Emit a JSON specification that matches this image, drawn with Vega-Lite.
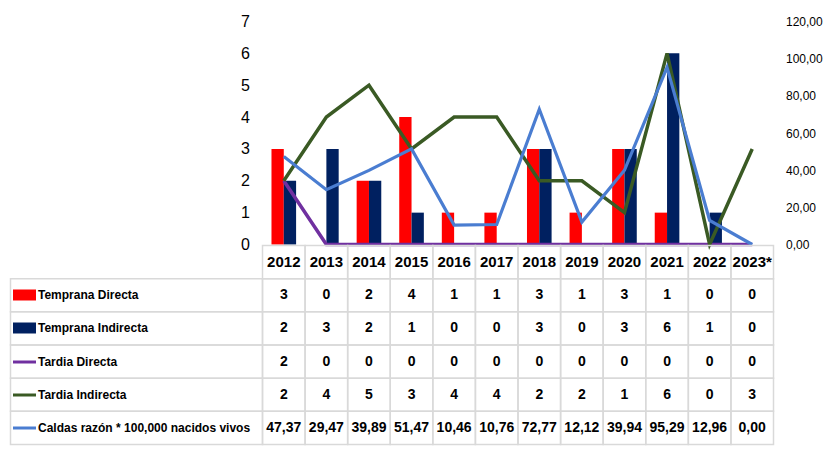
{
  "$schema": "https://vega.github.io/schema/vega-lite/v6.json",
  "padding": {"left": 6.5, "top": 13.5, "right": 0, "bottom": 0},
  "background": "white",
  "datasets": {
    "d": [
      {"year": "2012", "serie": "Temprana Directa", "v": 3},
      {"year": "2013", "serie": "Temprana Directa", "v": 0},
      {"year": "2014", "serie": "Temprana Directa", "v": 2},
      {"year": "2015", "serie": "Temprana Directa", "v": 4},
      {"year": "2016", "serie": "Temprana Directa", "v": 1},
      {"year": "2017", "serie": "Temprana Directa", "v": 1},
      {"year": "2018", "serie": "Temprana Directa", "v": 3},
      {"year": "2019", "serie": "Temprana Directa", "v": 1},
      {"year": "2020", "serie": "Temprana Directa", "v": 3},
      {"year": "2021", "serie": "Temprana Directa", "v": 1},
      {"year": "2022", "serie": "Temprana Directa", "v": 0},
      {"year": "2023*", "serie": "Temprana Directa", "v": 0},
      {"year": "2012", "serie": "Temprana Indirecta", "v": 2},
      {"year": "2013", "serie": "Temprana Indirecta", "v": 3},
      {"year": "2014", "serie": "Temprana Indirecta", "v": 2},
      {"year": "2015", "serie": "Temprana Indirecta", "v": 1},
      {"year": "2016", "serie": "Temprana Indirecta", "v": 0},
      {"year": "2017", "serie": "Temprana Indirecta", "v": 0},
      {"year": "2018", "serie": "Temprana Indirecta", "v": 3},
      {"year": "2019", "serie": "Temprana Indirecta", "v": 0},
      {"year": "2020", "serie": "Temprana Indirecta", "v": 3},
      {"year": "2021", "serie": "Temprana Indirecta", "v": 6},
      {"year": "2022", "serie": "Temprana Indirecta", "v": 1},
      {"year": "2023*", "serie": "Temprana Indirecta", "v": 0},
      {"year": "2012", "serie": "Tardia Directa", "v": 2},
      {"year": "2013", "serie": "Tardia Directa", "v": 0},
      {"year": "2014", "serie": "Tardia Directa", "v": 0},
      {"year": "2015", "serie": "Tardia Directa", "v": 0},
      {"year": "2016", "serie": "Tardia Directa", "v": 0},
      {"year": "2017", "serie": "Tardia Directa", "v": 0},
      {"year": "2018", "serie": "Tardia Directa", "v": 0},
      {"year": "2019", "serie": "Tardia Directa", "v": 0},
      {"year": "2020", "serie": "Tardia Directa", "v": 0},
      {"year": "2021", "serie": "Tardia Directa", "v": 0},
      {"year": "2022", "serie": "Tardia Directa", "v": 0},
      {"year": "2023*", "serie": "Tardia Directa", "v": 0},
      {"year": "2012", "serie": "Tardia Indirecta", "v": 2},
      {"year": "2013", "serie": "Tardia Indirecta", "v": 4},
      {"year": "2014", "serie": "Tardia Indirecta", "v": 5},
      {"year": "2015", "serie": "Tardia Indirecta", "v": 3},
      {"year": "2016", "serie": "Tardia Indirecta", "v": 4},
      {"year": "2017", "serie": "Tardia Indirecta", "v": 4},
      {"year": "2018", "serie": "Tardia Indirecta", "v": 2},
      {"year": "2019", "serie": "Tardia Indirecta", "v": 2},
      {"year": "2020", "serie": "Tardia Indirecta", "v": 1},
      {"year": "2021", "serie": "Tardia Indirecta", "v": 6},
      {"year": "2022", "serie": "Tardia Indirecta", "v": 0},
      {"year": "2023*", "serie": "Tardia Indirecta", "v": 3},
      {"year": "2012", "serie": "Caldas  razón * 100,000 nacidos vivos", "v": 47.37},
      {"year": "2013", "serie": "Caldas  razón * 100,000 nacidos vivos", "v": 29.47},
      {"year": "2014", "serie": "Caldas  razón * 100,000 nacidos vivos", "v": 39.89},
      {"year": "2015", "serie": "Caldas  razón * 100,000 nacidos vivos", "v": 51.47},
      {"year": "2016", "serie": "Caldas  razón * 100,000 nacidos vivos", "v": 10.46},
      {"year": "2017", "serie": "Caldas  razón * 100,000 nacidos vivos", "v": 10.76},
      {"year": "2018", "serie": "Caldas  razón * 100,000 nacidos vivos", "v": 72.77},
      {"year": "2019", "serie": "Caldas  razón * 100,000 nacidos vivos", "v": 12.12},
      {"year": "2020", "serie": "Caldas  razón * 100,000 nacidos vivos", "v": 39.94},
      {"year": "2021", "serie": "Caldas  razón * 100,000 nacidos vivos", "v": 95.29},
      {"year": "2022", "serie": "Caldas  razón * 100,000 nacidos vivos", "v": 12.96},
      {"year": "2023*", "serie": "Caldas  razón * 100,000 nacidos vivos", "v": 0.00}
    ]
  },
  "config": {
    "view": {"stroke": null},
    "font": "Liberation Sans, Arial, sans-serif",
    "locale": {"number": {"decimal": ",", "thousands": ".", "grouping": [3], "currency": ["", ""]}},
    "axis": {"labelColor": "#000000", "labelFont": "Liberation Sans, Arial, sans-serif"}
  },
  "columns": 2,
  "spacing": {"row": 1, "column": 0},
  "bounds": "flush",
  "concat": [
    {
      "width": 252,
      "height": 223,
      "data": {"values": []},
      "mark": "point"
    },
    {
      "width": 511,
      "height": 223,
      "data": {"name": "d"},
      "encoding": {
        "x": {"field": "year", "type": "nominal", "sort": null, "scale": {"paddingInner": 0, "paddingOuter": 0}, "axis": null}
      },
      "layer": [
        {
          "encoding": {
            "y": {"field": "v", "type": "quantitative", "scale": {"domain": [0, 7], "nice": false},
              "axis": {"values": [0, 1, 2, 3, 4, 5, 6, 7], "title": null, "domain": false, "ticks": false, "grid": false, "labelPadding": 13, "labelFontSize": 16}}
          },
          "layer": [
            {
              "transform": [{"filter": {"field": "serie", "oneOf": ["Temprana Directa", "Temprana Indirecta"]}}],
              "mark": {"type": "bar"},
              "encoding": {
                "xOffset": {"field": "serie", "type": "nominal", "sort": ["Temprana Directa", "Temprana Indirecta"], "scale": {"paddingInner": 0, "paddingOuter": 0.73}},
                "color": {"field": "serie", "type": "nominal",
                  "scale": {"domain": ["Temprana Directa", "Temprana Indirecta", "Tardia Directa", "Tardia Indirecta", "Caldas  razón * 100,000 nacidos vivos"],
                    "range": ["#FF0000", "#002060", "#7030A0", "#3A5A24", "#4A7DD1"]}, "legend": null}
              }
            },
            {
              "transform": [{"filter": {"field": "serie", "oneOf": ["Tardia Directa", "Tardia Indirecta"]}}],
              "mark": {"type": "line", "strokeWidth": 3.5},
              "encoding": {
                "color": {"field": "serie", "type": "nominal", "legend": null}
              }
            }
          ]
        },
        {
          "transform": [{"filter": {"field": "serie", "equal": "Caldas  razón * 100,000 nacidos vivos"}}],
          "mark": {"type": "line", "strokeWidth": 3.2},
          "encoding": {
            "y": {"field": "v", "type": "quantitative", "scale": {"domain": [0, 120], "nice": false},
              "axis": {"orient": "right", "values": [0, 20, 40, 60, 80, 100, 120], "format": ".2f", "title": null, "domain": false, "ticks": false, "grid": false, "labelPadding": 12, "labelFontSize": 12}},
            "color": {"field": "serie", "type": "nominal", "legend": null}
          }
        }
      ],
      "resolve": {"scale": {"y": "independent"}}
    },
    {
      "width": 252,
      "height": 199,
      "data": {"name": "d"},
      "transform": [{"filter": {"field": "year", "equal": "2012"}}],
      "mark": {"type": "rect", "fill": "transparent", "stroke": "#D9D9D9", "strokeWidth": 1.5},
      "encoding": {
        "y": {"field": "serie", "type": "nominal",
          "scale": {"domain": ["Año", "Temprana Directa", "Temprana Indirecta", "Tardia Directa", "Tardia Indirecta", "Caldas  razón * 100,000 nacidos vivos"], "paddingInner": 0, "paddingOuter": 0},
          "axis": {"values": ["Temprana Directa", "Temprana Indirecta", "Tardia Directa", "Tardia Indirecta", "Caldas  razón * 100,000 nacidos vivos"],
            "title": null, "domain": false, "grid": false, "offset": -25, "tickSize": 23, "labelAlign": "left", "labelPadding": -25,
            "labelFontSize": 12, "labelFontWeight": "bold", "labelLimit": 0, "zindex": 1,
            "tickColor": {"condition": [
              {"test": "datum.value === 'Temprana Directa'", "value": "#FF0000"},
              {"test": "datum.value === 'Temprana Indirecta'", "value": "#002060"},
              {"test": "datum.value === 'Tardia Directa'", "value": "#7030A0"},
              {"test": "datum.value === 'Tardia Indirecta'", "value": "#3A5A24"}
            ], "value": "#4A7DD1"},
            "tickWidth": {"condition": {"test": "indexof(datum.value, 'Temprana') === 0", "value": 11}, "value": 3}
          }
        }
      }
    },
    {
      "width": 511,
      "height": 199,
      "data": {"name": "d"},
      "encoding": {
        "x": {"field": "year", "type": "nominal", "sort": null, "scale": {"paddingInner": 0, "paddingOuter": 0}, "axis": null}
      },
      "layer": [
        {
          "mark": {"type": "rect", "fill": "transparent", "stroke": "#D9D9D9", "strokeWidth": 1.5},
          "encoding": {
            "y": {"field": "serie", "type": "nominal",
              "scale": {"domain": ["Año", "Temprana Directa", "Temprana Indirecta", "Tardia Directa", "Tardia Indirecta", "Caldas  razón * 100,000 nacidos vivos"], "paddingInner": 0, "paddingOuter": 0},
              "axis": null}
          }
        },
        {
          "transform": [{"filter": {"field": "serie", "equal": "Temprana Directa"}}],
          "mark": {"type": "rect", "fill": "transparent", "stroke": "#D9D9D9", "strokeWidth": 1.5},
          "encoding": {"y": {"datum": "Año", "type": "nominal"}}
        },
        {
          "transform": [{"filter": {"field": "serie", "equal": "Temprana Directa"}}],
          "mark": {"type": "text", "fontSize": 15, "fontWeight": "bold", "color": "#000000"},
          "encoding": {"y": {"datum": "Año", "type": "nominal"}, "text": {"field": "year", "type": "nominal"}}
        },
        {
          "transform": [{"filter": {"field": "serie", "oneOf": ["Temprana Directa", "Temprana Indirecta", "Tardia Directa", "Tardia Indirecta"]}}],
          "mark": {"type": "text", "fontSize": 14, "fontWeight": "bold", "color": "#000000"},
          "encoding": {"y": {"field": "serie", "type": "nominal"}, "text": {"field": "v", "type": "quantitative", "format": "d"}}
        },
        {
          "transform": [{"filter": {"field": "serie", "equal": "Caldas  razón * 100,000 nacidos vivos"}}],
          "mark": {"type": "text", "fontSize": 14, "fontWeight": "bold", "color": "#000000"},
          "encoding": {"y": {"field": "serie", "type": "nominal"}, "text": {"field": "v", "type": "quantitative", "format": ".2f"}}
        }
      ]
    }
  ]
}
